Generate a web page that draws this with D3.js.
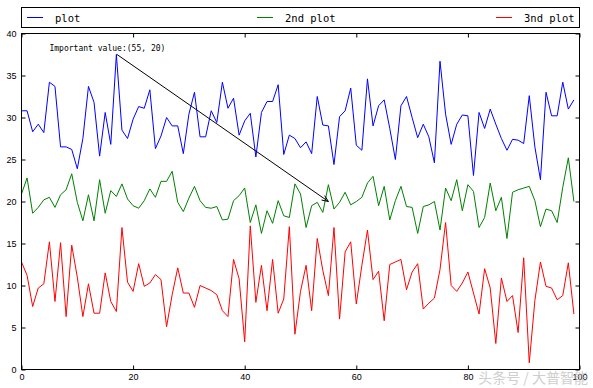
<!DOCTYPE html>
<html>
<head>
<meta charset="utf-8">
<script src="https://cdn.jsdelivr.net/npm/d3@7/dist/d3.min.js"></script>
<style>
  body { margin: 0; background: #fff; }
  text { font-family: "Liberation Sans", Arial, sans-serif; }
  .mono { font-family: "DejaVu Sans Mono", "Liberation Mono", monospace; }
</style>
</head>
<body>
<svg id="chart" width="593" height="388"></svg>
<script>
// series values, x = 0..99
const plot1 = [
  30.8, 30.8, 28.3, 29.2, 28.2, 34.2, 33.7, 26.5, 26.5, 26.2,
  23.9, 27.5, 33.7, 31.8, 25.4, 30.6, 26.8, 37.5, 28.5, 27.5,
  29.8, 31.3, 31.1, 33.3, 26.3, 27.8, 30.0, 29.0, 29.0, 25.7,
  30.4, 33.0, 27.7, 27.7, 30.8, 29.4, 34.2, 31.1, 32.3, 27.9,
  29.6, 30.5, 25.3, 30.6, 31.9, 31.9, 33.9, 25.6, 27.9, 27.5,
  26.4, 27.1, 25.7, 32.5, 29.1, 29.0, 24.4, 30.1, 30.8, 33.5,
  26.7, 26.1, 34.6, 29.0, 31.4, 32.1, 28.7, 25.0, 31.4, 32.5,
  30.0, 27.6, 29.2, 27.7, 24.6, 36.7, 30.4, 26.8, 29.2, 30.3,
  30.2, 23.1, 30.6, 28.7, 31.0, 29.2, 27.5, 26.1, 27.4, 27.3,
  26.9, 32.6, 26.5, 22.6, 33.0, 30.2, 30.2, 34.2, 31.0, 32.1
];
const plot2 = [
  20.9, 22.8, 18.6, 19.3, 20.2, 20.5, 19.3, 20.8, 21.4, 23.3,
  19.9, 17.7, 20.8, 17.7, 22.6, 18.6, 21.3, 20.6, 22.1, 20.3,
  19.5, 19.2, 20.1, 21.5, 20.5, 22.4, 22.4, 23.6, 19.9, 18.8,
  20.4, 21.8, 20.1, 19.3, 19.2, 19.4, 17.8, 17.9, 20.1, 20.7,
  21.6, 17.5, 19.6, 16.2, 18.9, 17.4, 20.1, 18.3, 18.1, 22.1,
  20.9, 16.9, 19.5, 19.9, 18.7, 22.0, 19.1, 19.9, 21.1, 19.6,
  20.0, 20.5, 22.2, 23.0, 19.5, 21.8, 17.8, 20.1, 21.8, 19.4,
  19.3, 16.2, 19.4, 19.6, 20.0, 16.6, 21.6, 20.1, 22.6, 18.9,
  22.0, 21.2, 16.9, 18.1, 22.2, 18.9, 20.5, 15.6, 21.1, 21.4,
  21.6, 21.8, 20.1, 17.0, 19.1, 18.9, 17.5, 21.7, 25.2, 20.0
];
const plot3 = [
  12.8, 11.2, 7.5, 9.7, 10.2, 15.2, 8.1, 15.1, 6.3, 14.8,
  11.0, 6.3, 10.2, 6.7, 6.7, 11.5, 8.1, 6.9, 16.9, 10.4,
  9.3, 12.6, 9.9, 10.3, 11.3, 10.7, 5.1, 8.9, 12.1, 9.1,
  9.1, 7.4, 10.0, 9.7, 9.4, 8.9, 7.0, 6.3, 13.1, 10.8,
  3.3, 17.1, 8.0, 12.4, 7.0, 13.1, 6.7, 8.4, 17.0, 4.2,
  9.3, 12.4, 7.0, 15.6, 11.8, 8.8, 16.9, 6.0, 14.0, 15.2,
  7.8, 12.4, 16.6, 10.7, 11.7, 5.8, 12.5, 12.8, 13.1, 9.5,
  11.6, 12.6, 7.2, 7.9, 8.5, 11.9, 17.5, 10.0, 9.3, 10.3,
  11.6, 9.1, 6.6, 12.0, 9.7, 3.1, 10.9, 8.1, 8.8, 4.4,
  13.3, 0.8, 8.2, 12.8, 9.9, 9.7, 8.3, 8.8, 12.7, 6.6
];
const seriesNames = ["plot", "2nd plot", "3nd plot"];
const seriesColors = ["#0000ff", "#008000", "#ff0000"];
const xTicks = [0, 20, 40, 60, 80, 100];
const yTicks = [0, 5, 10, 15, 20, 25, 30, 35, 40];
const noteLabel = "Important value:(55, 20)";
const notePoint = [55, 20];
const noteTextAt = [5, 38];
const watermark = "头条号 / 大普智能";

const svg = d3.select("#chart");
const plotLeft = 21.5, plotRight = 579.5, plotTop = 33.5, plotBottom = 369.5;

const x = d3.scaleLinear().domain([0, 100]).range([plotLeft, plotRight]);
const y = d3.scaleLinear().domain([0, 40]).range([plotBottom, plotTop]);

// ticks (inward, all four sides)
const axB = svg.append("g").attr("transform", `translate(0,${plotBottom})`)
  .call(d3.axisBottom(x).tickValues(xTicks).tickSize(-4).tickPadding(4).tickFormat(d3.format("d")));
const axT = svg.append("g").attr("transform", `translate(0,${plotTop})`)
  .call(d3.axisTop(x).tickValues(xTicks).tickSize(-4).tickFormat(""));
const axL = svg.append("g").attr("transform", `translate(${plotLeft},0)`)
  .call(d3.axisLeft(y).tickValues(yTicks).tickSize(-4).tickPadding(5).tickFormat(d3.format("d")));
const axR = svg.append("g").attr("transform", `translate(${plotRight},0)`)
  .call(d3.axisRight(y).tickValues(yTicks).tickSize(-4).tickFormat(""));
[axB, axT, axL, axR].forEach(g => {
  g.select(".domain").remove();
  g.selectAll(".tick line").attr("stroke", "#000");
  g.selectAll(".tick text").attr("fill", "#000").style("font-size", "9px")
    .style("font-family", "'Liberation Sans', Arial, sans-serif");
});

// lines
const line = d3.line().x((d, i) => x(i)).y(d => y(d));
[plot1, plot2, plot3].forEach((s, k) => {
  svg.append("path").datum(s)
    .attr("d", line)
    .attr("fill", "none")
    .attr("stroke", seriesColors[k])
    .attr("stroke-width", 1);
});

// frame
svg.append("rect")
  .attr("x", plotLeft).attr("y", plotTop)
  .attr("width", plotRight - plotLeft).attr("height", plotBottom - plotTop)
  .attr("fill", "none").attr("stroke", "#000").attr("stroke-width", 1);

// annotation
const noteText = svg.append("text")
  .attr("class", "mono")
  .attr("x", x(noteTextAt[0]))
  .attr("y", y(noteTextAt[1]) + 1)
  .attr("font-size", 9.5)
  .attr("textLength", 116)
  .attr("lengthAdjust", "spacingAndGlyphs")
  .text(noteLabel);
const bb = noteText.node().getBBox();
const cx = bb.x + bb.width / 2, cy = bb.y + bb.height / 2;
const tx = x(notePoint[0]), ty = y(notePoint[1]);
const startY = bb.y + bb.height + 1;
const startX = cx + (startY - cy) * (tx - cx) / (ty - cy);
svg.append("line")
  .attr("x1", startX).attr("y1", startY)
  .attr("x2", tx).attr("y2", ty)
  .attr("stroke", "#000").attr("stroke-width", 1);
const ang = Math.atan2(ty - startY, tx - startX);
const head = 7, spread = 0.4;
svg.append("path")
  .attr("d", `M${tx - head * Math.cos(ang - spread)},${ty - head * Math.sin(ang - spread)}L${tx},${ty}L${tx - head * Math.cos(ang + spread)},${ty - head * Math.sin(ang + spread)}`)
  .attr("fill", "none").attr("stroke", "#000").attr("stroke-width", 1);

// legend
const legTop = 7.5, legBottom = 27.5;
svg.append("rect")
  .attr("x", plotLeft).attr("y", legTop)
  .attr("width", plotRight - plotLeft).attr("height", legBottom - legTop)
  .attr("fill", "#fff").attr("stroke", "#000").attr("stroke-width", 1);
const legX = [27, 257, 496];
seriesNames.forEach((name, k) => {
  const ly = (legTop + legBottom) / 2;
  svg.append("line")
    .attr("x1", legX[k]).attr("x2", legX[k] + 16)
    .attr("y1", ly).attr("y2", ly)
    .attr("stroke", seriesColors[k]).attr("stroke-width", 1);
  svg.append("text")
    .attr("class", "mono")
    .attr("x", legX[k] + 28).attr("y", ly + 4)
    .attr("font-size", 10.5)
    .text(name);
});

// watermark
svg.append("text")
  .attr("x", 588).attr("y", 383)
  .attr("text-anchor", "end")
  .attr("font-size", 14)
  .style("font-family", "'Noto Sans CJK SC', sans-serif")
  .attr("fill", "#bbb")
  .attr("opacity", 0.7)
  .text(watermark);
</script>
</body>
</html>
